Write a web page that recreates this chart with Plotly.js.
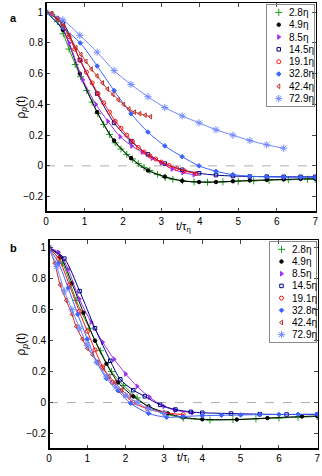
<!DOCTYPE html>
<html><head><meta charset="utf-8">
<script src="https://cdn.plot.ly/plotly-3.0.1.min.js"></script>
<style>html,body{margin:0;padding:0;background:#fff}#chart{width:322px;height:476px}</style>
</head><body><div id="chart"></div>
<script>
// ---- legend labels ----
const labels = ['2.8η','4.9η','8.5η','14.5η','19.1η','32.8η','42.4η','72.9η'];
const xTicks = [0,1,2,3,4,5,6,7];
const yTicks = [-0.2,0,0.2,0.4,0.6,0.8,1];

// ---- panel a (t / tau_eta) ----
const a_t_28 = [0,0.15,0.3,0.45,0.6,0.76,0.9,1.06,1.2,1.35,1.5,1.65,1.8,1.95,2.1,2.25,2.4,2.55,2.7,2.9,3.1,3.3,3.55,3.85,4.2,4.6,5.0,5.4,5.8,6.3,6.8,7.0];
const a_r_28 = [1,0.985,0.94,0.86,0.76,0.66,0.58,0.49,0.415,0.34,0.27,0.205,0.15,0.11,0.075,0.045,0.015,-0.01,-0.03,-0.055,-0.075,-0.088,-0.097,-0.104,-0.106,-0.104,-0.1,-0.097,-0.093,-0.09,-0.087,-0.086];
const a_t_49 = [0,0.44,0.88,1.33,1.77,2.21,2.65,3.09,3.54,3.98,4.42,4.86,5.3,5.74,6.18,6.62,7.0];
const a_r_49 = [1,0.885,0.6,0.35,0.165,0.05,-0.03,-0.07,-0.097,-0.105,-0.105,-0.1,-0.095,-0.091,-0.088,-0.085,-0.083];
const a_t_85 = [0,0.3,0.6,0.96,1.3,1.61,1.93,2.23,2.5,2.76,3.0,3.28,3.56,3.85];
const a_r_85 = [1,0.96,0.8,0.56,0.4,0.29,0.19,0.13,0.09,0.05,0.02,-0.02,-0.043,-0.058];
const a_t_145 = [0,0.44,0.88,1.33,1.77,2.21,2.65,3.09,3.54,3.98,4.42,4.86,5.3,5.74,6.18,6.62,7.0];
const a_r_145 = [1,0.93,0.69,0.47,0.28,0.16,0.075,0.015,-0.025,-0.048,-0.06,-0.066,-0.069,-0.07,-0.071,-0.071,-0.071];
const a_t_191 = [0,0.15,0.3,0.45,0.6,0.75,0.9,1.05,1.2,1.35,1.5,1.65,1.8,1.95,2.1,2.25,2.4,2.55,2.7,2.85,3.0,3.2,3.4,3.6,3.9];
const a_r_191 = [1,0.99,0.96,0.91,0.84,0.76,0.685,0.61,0.54,0.47,0.41,0.35,0.29,0.245,0.2,0.16,0.12,0.09,0.065,0.045,0.025,0.003,-0.017,-0.033,-0.05];
const a_t_328 = [0,0.44,0.89,1.33,1.77,2.21,2.65,3.09,3.54,3.98,4.42,4.86,5.3,5.74,6.18,6.62,7.0];
const a_r_328 = [1,0.9,0.8,0.65,0.49,0.34,0.22,0.13,0.06,0.0,-0.035,-0.057,-0.067,-0.071,-0.073,-0.074,-0.075];
const a_t_424 = [0,0.15,0.3,0.45,0.6,0.78,0.91,1.04,1.18,1.33,1.47,1.6,1.74,1.88,2.02,2.16,2.3,2.44,2.58,2.72];
const a_r_424 = [1,0.99,0.96,0.91,0.85,0.77,0.725,0.68,0.63,0.585,0.54,0.5,0.465,0.43,0.4,0.37,0.35,0.34,0.33,0.32];
const a_t_729 = [0,0.44,0.88,1.33,1.77,2.21,2.65,3.09,3.54,3.98,4.42,4.86,5.3,5.74,6.18];
const a_r_729 = [1,0.95,0.85,0.74,0.62,0.53,0.45,0.38,0.325,0.28,0.235,0.2,0.165,0.137,0.115];

// ---- panel b (t / tau_l) ----
const b_t_28 = [0,0.35,0.71,1.05,1.34,1.63,1.95,2.3,2.6,3.0,3.5,4.2,4.8,5.4,6.0,6.5,7.0];
const b_r_28 = [1,0.9,0.66,0.48,0.335,0.2,0.11,0.03,-0.03,-0.07,-0.1,-0.113,-0.11,-0.105,-0.1,-0.095,-0.09];
const b_t_49 = [0,0.3,0.6,0.9,1.2,1.5,1.8,2.2,2.6,3.1,3.5,4.0,4.9,5.7,6.6,7.0];
const b_r_49 = [1,0.94,0.77,0.58,0.4,0.25,0.13,0.04,-0.025,-0.07,-0.095,-0.108,-0.11,-0.1,-0.09,-0.087];
const b_t_85 = [0,0.25,0.5,0.79,1.1,1.4,1.7,2.0,2.3,2.62,3.0,3.3,3.75];
const b_r_85 = [1,0.97,0.86,0.67,0.52,0.39,0.28,0.185,0.105,0.035,-0.025,-0.05,-0.065];
const b_t_145 = [0,0.4,0.8,1.2,1.6,1.86,2.2,2.5,2.9,3.3,3.7,4.0,4.75,5.5,6.2,7.0];
const b_r_145 = [1,0.93,0.72,0.48,0.27,0.15,0.08,0.04,-0.015,-0.045,-0.06,-0.066,-0.071,-0.075,-0.077,-0.077];
const b_t_191 = [0,0.25,0.53,0.79,1.0,1.2,1.4,1.65,1.86,2.2,2.57,3.0,3.5];
const b_r_191 = [1,0.93,0.76,0.59,0.46,0.34,0.23,0.13,0.075,0.0,-0.04,-0.065,-0.078];
const b_t_328 = [0,0.25,0.5,0.75,1.0,1.25,1.5,1.8,2.13,2.6,3.07,3.5,4.0,4.5,5.0,5.5,6.0,6.5,7.0];
const b_r_328 = [1,0.9,0.74,0.57,0.41,0.26,0.155,0.077,-0.005,-0.07,-0.095,-0.09,-0.085,-0.082,-0.08,-0.078,-0.077,-0.076,-0.075];
const b_t_424 = [0,0.15,0.29,0.45,0.6,0.71,0.87,1.0,1.13,1.27,1.42,1.57,1.72,1.9,2.1];
const b_r_424 = [1,0.9,0.76,0.66,0.57,0.49,0.41,0.35,0.31,0.26,0.22,0.17,0.13,0.08,0.04];
const b_t_729 = [0,0.2,0.4,0.6,0.8,1.0,1.25,1.5,1.75,2.0,2.3,2.6,3.0];
const b_r_729 = [1,0.88,0.72,0.6,0.48,0.37,0.26,0.17,0.1,0.045,0.0,-0.04,-0.07];

// ---- styles ----
const colors = ['#1f9a1f','#000000','#a030f0','#00008c','#ff1010','#3b63ff','#c0302a','#7088ff'];
const symbols = ['cross-thin-open','circle','triangle-right','square-open','circle-open','diamond','triangle-left-open','asterisk-open'];
const sizes = [5,3.5,4,3.5,4,3.5,4,6];

const aSeries = [[a_t_28,a_r_28],[a_t_49,a_r_49],[a_t_85,a_r_85],[a_t_145,a_r_145],[a_t_191,a_r_191],[a_t_328,a_r_328],[a_t_424,a_r_424],[a_t_729,a_r_729]];
const bSeries = [[b_t_28,b_r_28],[b_t_49,b_r_49],[b_t_85,b_r_85],[b_t_145,b_r_145],[b_t_191,b_r_191],[b_t_328,b_r_328],[b_t_424,b_r_424],[b_t_729,b_r_729]];

function mk(i){ return {symbol:symbols[i], size:sizes[i], color:colors[i], line:{color:colors[i], width:1}}; }

const traces = [];
aSeries.forEach((s,i)=>traces.push({x:s[0],y:s[1],xaxis:'x',yaxis:'y',mode:'lines+markers',
  line:{color:colors[i],width:1,shape:'spline',smoothing:0.8},marker:mk(i),showlegend:false,hoverinfo:'skip'}));
bSeries.forEach((s,i)=>traces.push({x:s[0],y:s[1],xaxis:'x2',yaxis:'y2',mode:'lines+markers',
  line:{color:colors[i],width:1,shape:'spline',smoothing:0.8},marker:mk(i),showlegend:false,hoverinfo:'skip'}));

const annotations = [
  {text:'<b>a</b>',xref:'paper',yref:'paper',x:-0.14,y:0.984,showarrow:false,font:{size:11}},
  {text:'<b>b</b>',xref:'paper',yref:'paper',x:-0.14,y:0.4507,showarrow:false,font:{size:11}},
  {text:'ρ<sub><i>p</i></sub>(t)',xref:'paper',yref:'y domain',x:-0.125,y:0.5,textangle:-90,showarrow:false,font:{size:12}},
  {text:'ρ<sub><i>p</i></sub>(t)',xref:'paper',yref:'y2 domain',x:-0.125,y:0.5,textangle:-90,showarrow:false,font:{size:12}},
  {text:'t/τ<sub>η</sub>',xref:'x',yref:'paper',x:3.57,y:0.497,showarrow:false,font:{size:11}},
  {text:'t/τ<sub>l</sub>',xref:'x2',yref:'paper',x:3.5,y:-0.04,showarrow:false,font:{size:11}}
];
// legend boxes: markers on hidden axes at index positions, labels as annotations
labels.forEach((lab,i)=>{
  ['3','4'].forEach(k=>{
    traces.push({x:[0.25],y:[i],xaxis:'x'+k,yaxis:'y'+k,mode:'markers',
      marker:mk(i),showlegend:false,hoverinfo:'skip',cliponaxis:false});
    annotations.push({text:lab,xref:'x'+k,yref:'y'+k,x:0.43,y:i,xanchor:'left',yanchor:'middle',
      showarrow:false,font:{size:10}});
  });
});

const font = {family:'Arial, "Liberation Sans", sans-serif', size:10, color:'#000'};
function xax(dom, anchor){ return {domain:dom, anchor:anchor, range:[0,7.02], tickvals:xTicks, ticks:'inside', ticklen:4,
  mirror:'ticks', showline:true, linecolor:'#000', linewidth:1, showgrid:false, zeroline:false, tickfont:{size:10}}; }
function yax(dom, anchor, r){ return {domain:dom, anchor:anchor, range:r, tickvals:yTicks, ticks:'inside', ticklen:4,
  mirror:'ticks', showline:true, linecolor:'#000', linewidth:1, showgrid:false, zeroline:false, tickfont:{size:10}}; }
function lax(dom, anchor, r){ return {domain:dom, anchor:anchor, range:r, showline:true, mirror:true, linecolor:'#8a8a8a',
  linewidth:1, showgrid:false, zeroline:false, showticklabels:false, ticks:'', fixedrange:true}; }

const layout = {
  width:322, height:476, margin:{l:46,r:4,t:3,b:27}, font:font,
  paper_bgcolor:'#fff', plot_bgcolor:'rgba(0,0,0,0)', showlegend:false,
  xaxis: xax([0,0.9926],'y'),
  yaxis: yax([0.5314,1],'x',[-0.3,1.06]),
  xaxis2: xax([0.011,1],'y2'),
  yaxis2: yax([0,0.4686],'x2',[-0.3,1.05]),
  xaxis3: lax([0.8125,0.9853],'y3',[0,1]),
  yaxis3: lax([0.769,0.9955],'x3',[7.6,-0.6]),
  xaxis4: lax([0.8235,0.9926],'y4',[0,1]),
  yaxis4: lax([0.2399,0.4641],'x4',[7.6,-0.6]),
  shapes:[
    {type:'line',xref:'x',yref:'y',x0:0,x1:7,y0:0,y1:0,line:{color:'#9a9a9a',width:0.8,dash:'dash'},layer:'below'},
    {type:'line',xref:'x2',yref:'y2',x0:0,x1:7,y0:0,y1:0,line:{color:'#9a9a9a',width:0.8,dash:'dash'},layer:'below'},
    {type:'line',xref:'x domain',yref:'y domain',x0:0,x1:0,y0:0,y1:1,line:{color:'#000',width:2}},
    {type:'line',xref:'x domain',yref:'y domain',x0:0,x1:1,y0:0,y1:0,line:{color:'#000',width:2}},
    {type:'line',xref:'x2 domain',yref:'y2 domain',x0:0,x1:0,y0:0,y1:1,line:{color:'#000',width:2}},
    {type:'line',xref:'x2 domain',yref:'y2 domain',x0:0,x1:1,y0:0,y1:0,line:{color:'#000',width:2}}
  ],
  annotations: annotations
};
Plotly.newPlot('chart', traces, layout, {displayModeBar:false, staticPlot:true});
</script></body></html>
